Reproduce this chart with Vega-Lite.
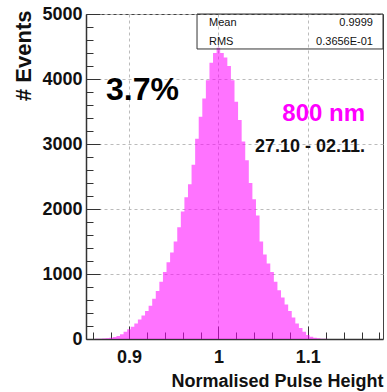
{
  "$schema": "https://vega.github.io/schema/vega-lite/v6.json",
  "width": 297,
  "height": 325,
  "autosize": "none",
  "padding": {"left": 86, "top": 14, "right": 4, "bottom": 53},
  "background": "white",
  "config": {
    "font": "Liberation Sans",
    "view": {"stroke": "#444", "strokeWidth": 1}
  },
  "datasets": {
    "hist": [
      {"lo": 0.862, "count": 2}, {"lo": 0.866, "count": 4}, {"lo": 0.870, "count": 8}, {"lo": 0.874, "count": 12},
      {"lo": 0.878, "count": 20}, {"lo": 0.882, "count": 30}, {"lo": 0.886, "count": 45}, {"lo": 0.890, "count": 75},
      {"lo": 0.894, "count": 110}, {"lo": 0.898, "count": 150}, {"lo": 0.902, "count": 190}, {"lo": 0.906, "count": 240},
      {"lo": 0.910, "count": 300}, {"lo": 0.914, "count": 360}, {"lo": 0.918, "count": 430}, {"lo": 0.922, "count": 510},
      {"lo": 0.926, "count": 620}, {"lo": 0.930, "count": 740}, {"lo": 0.934, "count": 880}, {"lo": 0.938, "count": 1030},
      {"lo": 0.942, "count": 1180}, {"lo": 0.946, "count": 1330}, {"lo": 0.950, "count": 1500}, {"lo": 0.954, "count": 1720},
      {"lo": 0.958, "count": 1960}, {"lo": 0.962, "count": 2180}, {"lo": 0.966, "count": 2380}, {"lo": 0.970, "count": 2680},
      {"lo": 0.974, "count": 3080}, {"lo": 0.978, "count": 3420}, {"lo": 0.982, "count": 3700}, {"lo": 0.986, "count": 3980},
      {"lo": 0.990, "count": 4250}, {"lo": 0.994, "count": 4400}, {"lo": 0.998, "count": 4480}, {"lo": 1.002, "count": 4400},
      {"lo": 1.006, "count": 4330}, {"lo": 1.010, "count": 4200}, {"lo": 1.014, "count": 3980}, {"lo": 1.018, "count": 3650},
      {"lo": 1.022, "count": 3370}, {"lo": 1.026, "count": 3040}, {"lo": 1.030, "count": 2750}, {"lo": 1.034, "count": 2400},
      {"lo": 1.038, "count": 2150}, {"lo": 1.042, "count": 1900}, {"lo": 1.046, "count": 1500}, {"lo": 1.050, "count": 1300},
      {"lo": 1.054, "count": 1160}, {"lo": 1.058, "count": 1030}, {"lo": 1.062, "count": 880}, {"lo": 1.066, "count": 750},
      {"lo": 1.070, "count": 640}, {"lo": 1.074, "count": 530}, {"lo": 1.078, "count": 430}, {"lo": 1.082, "count": 330},
      {"lo": 1.086, "count": 240}, {"lo": 1.090, "count": 170}, {"lo": 1.094, "count": 110}, {"lo": 1.098, "count": 60},
      {"lo": 1.102, "count": 35}, {"lo": 1.106, "count": 18}, {"lo": 1.110, "count": 10}, {"lo": 1.114, "count": 5},
      {"lo": 1.118, "count": 3}, {"lo": 1.122, "count": 0}
    ],
    "one": [{}]
  },
  "layer": [
    {
      "data": {"name": "hist"},
      "mark": {"type": "area", "interpolate": "step-after", "fill": "#ff00ff", "fillOpacity": 0.55, "stroke": null},
      "encoding": {
        "x": {
          "field": "lo", "type": "quantitative",
          "scale": {"domain": [0.852, 1.184], "nice": false, "zero": false},
          "axis": {
            "values": [0.86, 0.88, 0.9, 0.92, 0.94, 0.96, 0.98, 1.0, 1.02, 1.04, 1.06, 1.08, 1.1, 1.12, 1.14, 1.16, 1.18],
            "tickCount": 100,
            "labelExpr": "abs(datum.value*10 - round(datum.value*10)) < 0.000001 ? format(datum.value, '~g') : ''",
            "labelOverlap": false,
            "labelFont": "Liberation Sans", "labelFontWeight": "bold", "labelFontSize": 18, "labelColor": "#111",
            "labelPadding": 22, "labelBaseline": "top",
            "tickSize": {"condition": {"test": "abs(datum.value*10 - round(datum.value*10)) < 0.000001", "value": -13}, "value": -7},
            "tickColor": "#333", "tickWidth": 1,
            "domainColor": "#333", "domainWidth": 1.5,
            "grid": true, "gridColor": "#bbbbbb", "gridDash": [3, 3], "gridWidth": 1,
            "gridOpacity": {"condition": {"test": "abs(datum.value*10 - round(datum.value*10)) < 0.000001", "value": 1}, "value": 0},
            "title": "Normalised Pulse Height",
            "titleFont": "Liberation Sans", "titleFontWeight": "bold", "titleFontSize": 18, "titleColor": "#111",
            "titleAlign": "right", "titleBaseline": "alphabetic", "titleX": 297, "titleY": 47
          }
        },
        "y": {
          "field": "count", "type": "quantitative",
          "scale": {"domain": [0, 5000], "nice": false},
          "axis": {
            "values": [0, 200, 400, 600, 800, 1000, 1200, 1400, 1600, 1800, 2000, 2200, 2400, 2600, 2800, 3000, 3200, 3400, 3600, 3800, 4000, 4200, 4400, 4600, 4800, 5000],
            "tickCount": 100,
            "labelExpr": "datum.value % 1000 == 0 ? format(datum.value, 'd') : ''",
            "labelOverlap": false,
            "labelFont": "Liberation Sans", "labelFontWeight": "bold", "labelFontSize": 18, "labelColor": "#111",
            "labelPadding": 18,
            "tickSize": {"condition": {"test": "datum.value % 1000 == 0", "value": -14}, "value": -7},
            "tickColor": "#333", "tickWidth": 1,
            "domainColor": "#333", "domainWidth": 1.5,
            "grid": true, "gridColor": "#bbbbbb", "gridDash": [3, 3], "gridWidth": 1,
            "gridOpacity": {"condition": {"test": "datum.value % 1000 == 0", "value": 1}, "value": 0},
            "title": "# Events",
            "titleFont": "Liberation Sans", "titleFontWeight": "bold", "titleFontSize": 22, "titleColor": "#111",
            "titleAlign": "right", "titleBaseline": "alphabetic", "titleX": -56, "titleY": -4, "titleAngle": 270
          }
        }
      }
    },
    {
      "data": {"name": "one"},
      "mark": {"type": "rect", "fill": "transparent", "stroke": "#333", "strokeWidth": 1},
      "encoding": {
        "x": {"datum": 0.9761, "type": "quantitative"},
        "x2": {"datum": 1.184},
        "y": {"datum": 5000, "type": "quantitative"},
        "y2": {"datum": 4462}
      }
    },
    {
      "data": {"name": "one"},
      "mark": {"type": "text", "text": "Mean", "align": "left", "baseline": "alphabetic", "fontSize": 11, "font": "Liberation Sans", "color": "#111"},
      "encoding": {"x": {"datum": 0.9895, "type": "quantitative"}, "y": {"datum": 4815, "type": "quantitative"}}
    },
    {
      "data": {"name": "one"},
      "mark": {"type": "text", "text": "0.9999", "align": "right", "baseline": "alphabetic", "fontSize": 11, "font": "Liberation Sans", "color": "#111"},
      "encoding": {"x": {"datum": 1.1728, "type": "quantitative"}, "y": {"datum": 4815, "type": "quantitative"}}
    },
    {
      "data": {"name": "one"},
      "mark": {"type": "text", "text": "RMS", "align": "left", "baseline": "alphabetic", "fontSize": 11, "font": "Liberation Sans", "color": "#111"},
      "encoding": {"x": {"datum": 0.9895, "type": "quantitative"}, "y": {"datum": 4530, "type": "quantitative"}}
    },
    {
      "data": {"name": "one"},
      "mark": {"type": "text", "text": "0.3656E-01", "align": "right", "baseline": "alphabetic", "fontSize": 11, "font": "Liberation Sans", "color": "#111"},
      "encoding": {"x": {"datum": 1.1728, "type": "quantitative"}, "y": {"datum": 4530, "type": "quantitative"}}
    },
    {
      "data": {"name": "one"},
      "mark": {"type": "text", "text": "3.7%", "align": "left", "baseline": "alphabetic", "fontSize": 32, "fontWeight": "bold", "font": "Liberation Sans", "color": "#000"},
      "encoding": {"x": {"datum": 0.8744, "type": "quantitative"}, "y": {"datum": 3677, "type": "quantitative"}}
    },
    {
      "data": {"name": "one"},
      "mark": {"type": "text", "text": "800 nm", "align": "right", "baseline": "alphabetic", "fontSize": 24, "fontWeight": "bold", "font": "Liberation Sans", "color": "#ff00ff"},
      "encoding": {"x": {"datum": 1.1639, "type": "quantitative"}, "y": {"datum": 3354, "type": "quantitative"}}
    },
    {
      "data": {"name": "one"},
      "mark": {"type": "text", "text": "27.10 - 02.11.", "align": "right", "baseline": "alphabetic", "fontSize": 18, "fontWeight": "bold", "font": "Liberation Sans", "color": "#111"},
      "encoding": {"x": {"datum": 1.1639, "type": "quantitative"}, "y": {"datum": 2877, "type": "quantitative"}}
    }
  ]
}
